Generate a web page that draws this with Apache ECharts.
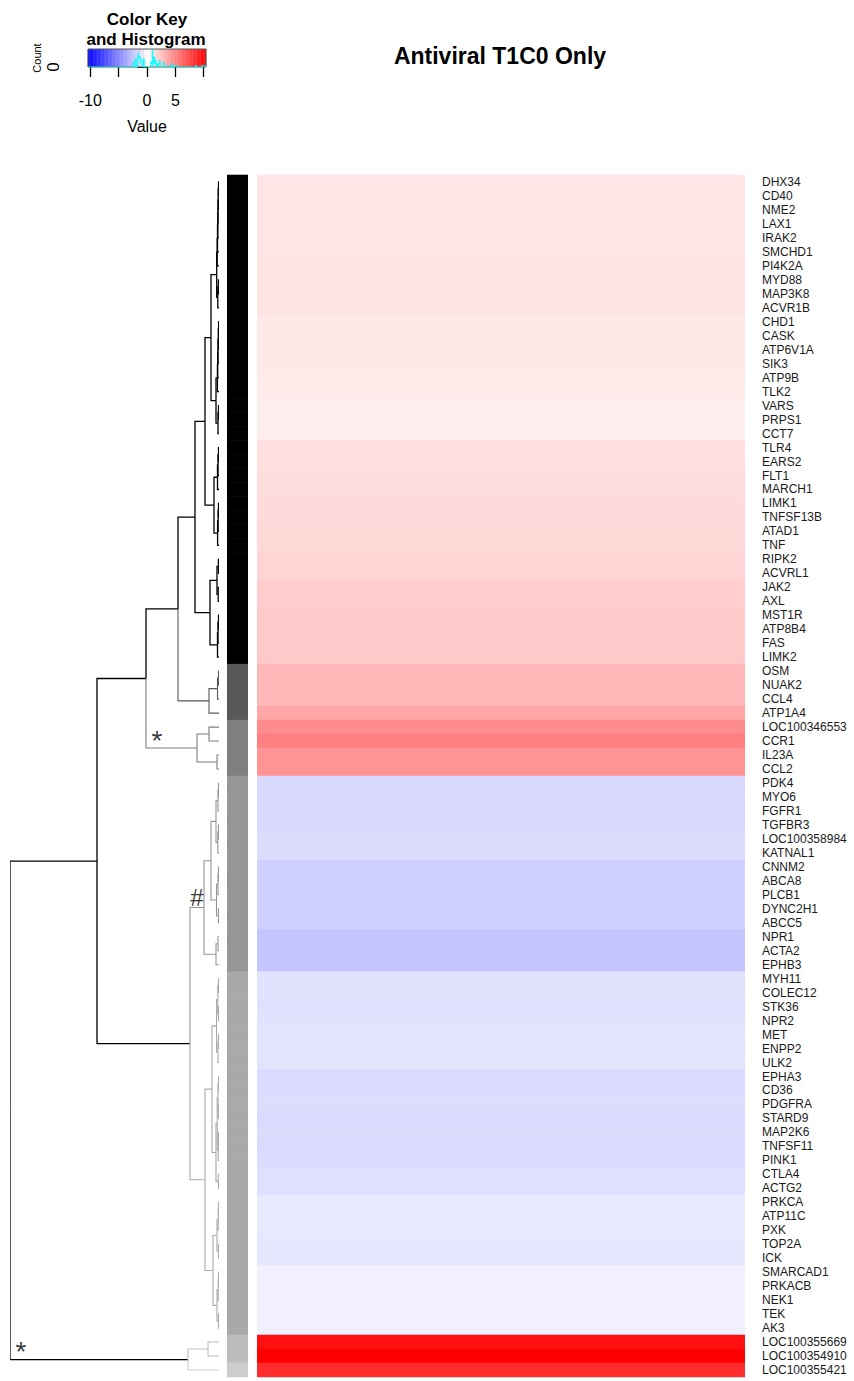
<!DOCTYPE html>
<html>
<head>
<meta charset="utf-8">
<title>Antiviral T1C0 Only</title>
<script src="https://cdn.jsdelivr.net/npm/echarts@6/dist/echarts.min.js"></script>
<style>
  html, body { margin: 0; padding: 0; background: #ffffff; }
  #main { width: 854px; height: 1381px; }
</style>
</head>
<body>
<div id="main"></div>
<script>
// ---- data -------------------------------------------------------------
const genes = [
  'DHX34','CD40','NME2','LAX1','IRAK2','SMCHD1','PI4K2A','MYD88','MAP3K8','ACVR1B',
  'CHD1','CASK','ATP6V1A','SIK3','ATP9B','TLK2','VARS','PRPS1','CCT7','TLR4',
  'EARS2','FLT1','MARCH1','LIMK1','TNFSF13B','ATAD1','TNF','RIPK2','ACVRL1','JAK2',
  'AXL','MST1R','ATP8B4','FAS','LIMK2','OSM','NUAK2','CCL4','ATP1A4','LOC100346553',
  'CCR1','IL23A','CCL2','PDK4','MYO6','FGFR1','TGFBR3','LOC100358984','KATNAL1','CNNM2',
  'ABCA8','PLCB1','DYNC2H1','ABCC5','NPR1','ACTA2','EPHB3','MYH11','COLEC12','STK36',
  'NPR2','MET','ENPP2','ULK2','EPHA3','CD36','PDGFRA','STARD9','MAP2K6','TNFSF11',
  'PINK1','CTLA4','ACTG2','PRKCA','ATP11C','PXK','TOP2A','ICK','SMARCAD1','PRKACB',
  'NEK1','TEK','AK3','LOC100355669','LOC100354910','LOC100355421'
];

// log fold change per gene (single column)
const values = [
  1.0, 1.0, 1.0, 1.0, 1.0, 1.0, 1.2, 1.2, 1.2, 1.2,
  0.95, 0.95, 0.95, 0.95, 0.85, 0.85, 0.7, 0.7, 0.7, 1.3,
  1.3, 1.4, 1.4, 1.5, 1.5, 1.6, 1.6, 1.75, 1.75, 2.05,
  2.05, 2.2, 2.2, 2.2, 2.2, 2.95, 2.95, 2.95, 3.6, 4.7,
  5.2, 4.35, 4.35, -1.6, -1.6, -1.6, -1.6, -1.43, -1.43, -1.9,
  -1.9, -1.9, -1.9, -1.9, -2.4, -2.4, -2.4, -1.2, -1.18, -1.22,
  -1.2, -1.16, -1.2, -1.1, -1.48, -1.45, -1.42, -1.5, -1.44, -1.52,
  -1.47, -1.31, -1.31, -0.95, -0.9, -0.95, -1.0, -1.0, -0.6, -0.6,
  -0.6, -0.6, -0.6, 9.75, 10.4, 8.6
];

// cluster membership of each row (side colour bar)
const rowGroup = [
  0,0,0,0,0,0,0,0,0,0, 0,0,0,0,0,0,0,0,0,0,
  0,0,0,0,0,0,0,0,0,0, 0,0,0,0,0,1,1,1,1,2,
  2,2,2,3,3,3,3,3,3,3, 3,3,3,3,3,3,3,4,4,4,
  4,4,4,4,4,4,4,4,4,4, 4,4,4,4,4,4,4,4,4,4,
  4,4,4,5,5,6
];
const groupColors = ['#000000', '#595959', '#7f7f7f', '#969696', '#a9a9a9', '#bdbdbd', '#cdcdcd'];

// row dendrogram: [left, right, mergeHeight]; numbers are row indices
const rowTree = [
  [
    [
      [
        [
          [
            [
              [[[[[[[0, 1, .05], 2, .08], 3, .1], 4, .12], 5, .15], 6, .18], [[7, 8, .06], 9, .12], .23],
              [[[[[[10, 11, .04], 12, .07], 13, .1], 14, .13], 15, .16], [[16, 17, .05], 18, .1], .3],
              .8],
            [[[[19, 20, .05], 21, .1], 22, .15], [[[23, 24, .05], 25, .09], 26, .14], .5],
            1.4],
          [[[27, 28, .06], [29, 30, .08], .2], [[[31, 32, .05], 33, .1], 34, .15], .9],
          2.4],
        [[[35, 36, .05], 37, .15], 38, 1.0],
        4.1],
      [[39, 40, 1.0], [41, 42, .2], 2.2],
      7.3],
    [
      [
        [[[[43, 44, .05], 45, .1], [[46, 47, .05], 48, .12], .3],
         [[[49, 50, .05], 51, .1], [52, 53, .06], .25], .8],
        [[54, 55, .1], 56, .3],
        1.5],
      [
        [[[[57, 58, .05], [59, 60, .05], .12], [[61, 62, .05], 63, .1], .25],
         [[[[64, 65, .04], [66, 67, .04], .1], [[68, 69, .05], 70, .08], .18], [71, 72, .06], .3], .7],
        [[[[73, 74, .04], 75, .08], [76, 77, .05], .2],
         [[[78, 79, .04], 80, .08], [81, 82, .05], .2], .6],
        1.4],
      2.9],
    12.2],
  [[83, 84, 1.1], 85, 3.1],
  20.9
];

// branch marks: symbol drawn beside the branch that leads to a row range
const branchMarks = [
  { text: '*', rows: [39, 42] },
  { text: '#', rows: [43, 56] },
  { text: '*', rows: [83, 85] }
];

// colour key tick values
const keyTicks = [-10, -5, 0, 5, 10];
const keyTickLabels = [-10, 0, 5];
const histBreakCount = 150;

// ---- derived ----------------------------------------------------------
const N = genes.length;
const M = Math.max(...values.map(Math.abs));   // symmetric key range

function layout(node) {
  if (typeof node === 'number') return { leaf: true, y: node, h: 0, lo: node, hi: node };
  const l = layout(node[0]), r = layout(node[1]);
  return { leaf: false, y: (l.y + r.y) / 2, h: node[2], kids: [l, r], lo: l.lo, hi: r.hi };
}
const tree = layout(rowTree);
const rootHeight = tree.h;

function branchColour(n) {
  const g = rowGroup[n.lo];
  for (let i = n.lo; i <= n.hi; i++) if (rowGroup[i] !== g) return '#000000';
  return groupColors[g];
}

const segments = [];
const branchAt = {};
(function walk(n) {
  if (n.leaf) return;
  n.kids.forEach(k => {
    const col = branchColour(k);
    segments.push({
      coords: [[n.h, n.y], [n.h, k.y], [k.h, k.y]],
      lineStyle: { color: col, width: col === '#000000' ? 1.3 : 1.1, opacity: 1 }
    });
    branchAt[k.lo + '-' + k.hi] = [n.h, k.y];
    walk(k);
  });
})(tree);

const markOffset = { '*': [11, -8], '#': [7, -10] };
const markData = branchMarks.map(b => ({
  name: b.text,
  value: branchAt[b.rows[0] + '-' + b.rows[1]],
  label: { offset: markOffset[b.text], fontSize: b.text === '*' ? 28 : 24 }
}));

// histogram of values over the colour-key breaks
const breaks = [];
for (let i = 0; i < histBreakCount; i++) breaks.push(-M + 2 * M * i / (histBreakCount - 1));
const counts = new Array(histBreakCount - 1).fill(0);
values.forEach(v => {
  let k = Math.floor((v + M) / (2 * M) * (histBreakCount - 1));
  k = Math.min(Math.max(k, 0), histBreakCount - 2);
  counts[k]++;
});
const histY = counts.concat([counts[counts.length - 1]]);
const histData = breaks.map((b, i) => [b, histY[i]]);
const maxCount = Math.max(...counts);
const countTicks = [];
for (let c = 0; c <= maxCount; c++) countTicks.push(c);

const keyBins = [];
for (let i = 0; i < histBreakCount - 1; i++) keyBins.push([breaks[i], breaks[i + 1], (breaks[i] + breaks[i + 1]) / 2]);

// ---- chart ------------------------------------------------------------
const FONT = '"Liberation Sans", Arial, sans-serif';
const chart = echarts.init(document.getElementById('main'), null, { renderer: 'svg' });

const TOP = 175, HEIGHT = 1202;
const hidden = { show: false };

const option = {
  animation: false,
  backgroundColor: '#ffffff',
  textStyle: { fontFamily: FONT },
  grid: [
    { left: 10, top: TOP, width: 209, height: HEIGHT, outerBoundsMode: 'none' },   // dendrogram
    { left: 227, top: TOP, width: 21, height: HEIGHT, outerBoundsMode: 'none' },   // side bar
    { left: 257, top: TOP, width: 488, height: HEIGHT, outerBoundsMode: 'none' },  // heatmap
    { left: 88, top: 49, width: 118, height: 18, outerBoundsMode: 'none' },        // key
    { left: 88, top: 49, width: 118, height: 18, outerBoundsMode: 'none' }         // key histogram
  ],
  xAxis: [
    { gridIndex: 0, type: 'value', min: 0, max: rootHeight, inverse: true, ...hidden },
    { gridIndex: 1, type: 'category', data: [''], ...hidden },
    { gridIndex: 2, type: 'category', data: [''], ...hidden },
    {
      gridIndex: 3, type: 'value', min: -M, max: M,
      axisLine: { show: false },
      splitLine: { show: false },
      axisTick: { show: true, length: 10, customValues: keyTicks, lineStyle: { color: '#000', width: 1.3 } },
      axisLabel: { show: true, customValues: keyTickLabels, fontSize: 16, color: '#000', margin: 25, fontFamily: FONT },
      name: 'Value', nameLocation: 'middle', nameGap: 51,
      nameTextStyle: { fontSize: 16, color: '#000', fontFamily: FONT }
    },
    { gridIndex: 4, type: 'value', min: -M, max: M, ...hidden }
  ],
  yAxis: [
    { gridIndex: 0, type: 'value', min: -0.5, max: N - 0.5, inverse: true, ...hidden },
    { gridIndex: 1, type: 'category', data: genes, inverse: true, ...hidden },
    {
      gridIndex: 2, type: 'category', data: genes, inverse: true, position: 'right',
      axisLine: { show: false }, axisTick: { show: false }, splitLine: { show: false },
      axisLabel: { interval: 0, fontSize: 12, color: '#1a1a1a', margin: 17, fontFamily: FONT, hideOverlap: false }
    },
    { gridIndex: 3, type: 'value', min: 0, max: 1, ...hidden },
    {
      gridIndex: 4, type: 'value', min: 0, max: maxCount / 0.95, position: 'left',
      axisLine: { show: false }, splitLine: { show: false },
      axisTick: { show: true, length: 10, customValues: countTicks, lineStyle: { color: '#000', width: 1 } },
      axisLabel: { show: true, customValues: [0], rotate: 90, fontSize: 17, color: '#000', margin: 26, fontFamily: FONT },
      name: 'Count', nameLocation: 'middle', nameRotate: 90, nameGap: 46,
      nameTextStyle: { fontSize: 11, color: '#000', fontFamily: FONT }
    }
  ],
  visualMap: {
    type: 'continuous', show: false, min: -M, max: M, dimension: 2,
    seriesIndex: [3, 4],
    inRange: { color: ['#0000ff', '#ffffff', '#ff0000'] }
  },
  graphic: [
    { type: 'text', z: 10, style: { text: 'Antiviral T1C0 Only', x: 500, y: 56, align: 'center', verticalAlign: 'middle',
      fontSize: 23, fontWeight: 'bold', fontFamily: FONT, fill: '#000' } },
    { type: 'text', z: 10, style: { text: 'Color Key', x: 147, y: 19, align: 'center', verticalAlign: 'middle',
      fontSize: 17, fontWeight: 'bold', fontFamily: FONT, fill: '#000' } },
    { type: 'text', z: 10, style: { text: 'and Histogram', x: 146, y: 39, align: 'center', verticalAlign: 'middle',
      fontSize: 17, fontWeight: 'bold', fontFamily: FONT, fill: '#000' } }
  ],
  series: [
    { // 0: dendrogram branches
      type: 'lines', coordinateSystem: 'cartesian2d', xAxisIndex: 0, yAxisIndex: 0,
      polyline: true, silent: true, data: segments,
      lineStyle: { opacity: 1 }
    },
    { // 1: branch marks
      type: 'scatter', xAxisIndex: 0, yAxisIndex: 0, symbolSize: 0, silent: true,
      data: markData,
      label: { show: true, position: 'inside', formatter: '{b}', fontSize: 24, color: '#000', fontFamily: FONT }
    },
    { // 2: side colour bar
      type: 'custom', xAxisIndex: 1, yAxisIndex: 1, silent: true,
      data: rowGroup.map((g, i) => [0, i, g]),
      encode: { x: 0, y: 1 },
      renderItem: (params, api) => {
        const c = api.coord([api.value(0), api.value(1)]);
        const s = api.size([1, 1]);
        return { type: 'rect', shape: { x: c[0] - s[0] / 2, y: c[1] - s[1] / 2 - 0.3, width: s[0], height: s[1] + 0.6 },
          style: { fill: groupColors[api.value(2)] } };
      }
    },
    { // 3: heatmap column
      type: 'custom', xAxisIndex: 2, yAxisIndex: 2, silent: true,
      data: values.map((v, i) => [0, i, v]),
      encode: { x: 0, y: 1 },
      renderItem: (params, api) => {
        const c = api.coord([api.value(0), api.value(1)]);
        const s = api.size([1, 1]);
        return { type: 'rect', shape: { x: c[0] - s[0] / 2, y: c[1] - s[1] / 2 - 0.3, width: s[0], height: s[1] + 0.6 },
          style: { fill: api.visual('color') } };
      }
    },
    { // 4: colour key strip
      type: 'custom', xAxisIndex: 3, yAxisIndex: 3, silent: true,
      data: keyBins,
      encode: { x: [0, 1] },
      renderItem: (params, api) => {
        const a = api.coord([api.value(0), 1]);
        const b = api.coord([api.value(1), 0]);
        return { type: 'rect', shape: { x: a[0] - 0.2, y: a[1], width: b[0] - a[0] + 0.4, height: b[1] - a[1] },
          style: { fill: api.visual('color') } };
      }
    },
    { // 5: colour key frame
      type: 'custom', xAxisIndex: 3, yAxisIndex: 3, silent: true, z: 3,
      data: [[-M, M]],
      encode: { x: [0, 1] },
      renderItem: (params, api) => {
        const a = api.coord([api.value(0), 1]);
        const b = api.coord([api.value(1), 0]);
        return { type: 'rect', shape: { x: a[0], y: a[1], width: b[0] - a[0], height: b[1] - a[1] },
          style: { fill: 'none', stroke: '#555555', lineWidth: 1 } };
      }
    },
    { // 6: histogram over the key
      type: 'line', xAxisIndex: 4, yAxisIndex: 4, silent: true, z: 4,
      step: 'end', showSymbol: false, symbol: 'none',
      data: histData,
      lineStyle: { color: '#00ffff', width: 1 }
    }
  ]
};

chart.setOption(option);
</script>
</body>
</html>
